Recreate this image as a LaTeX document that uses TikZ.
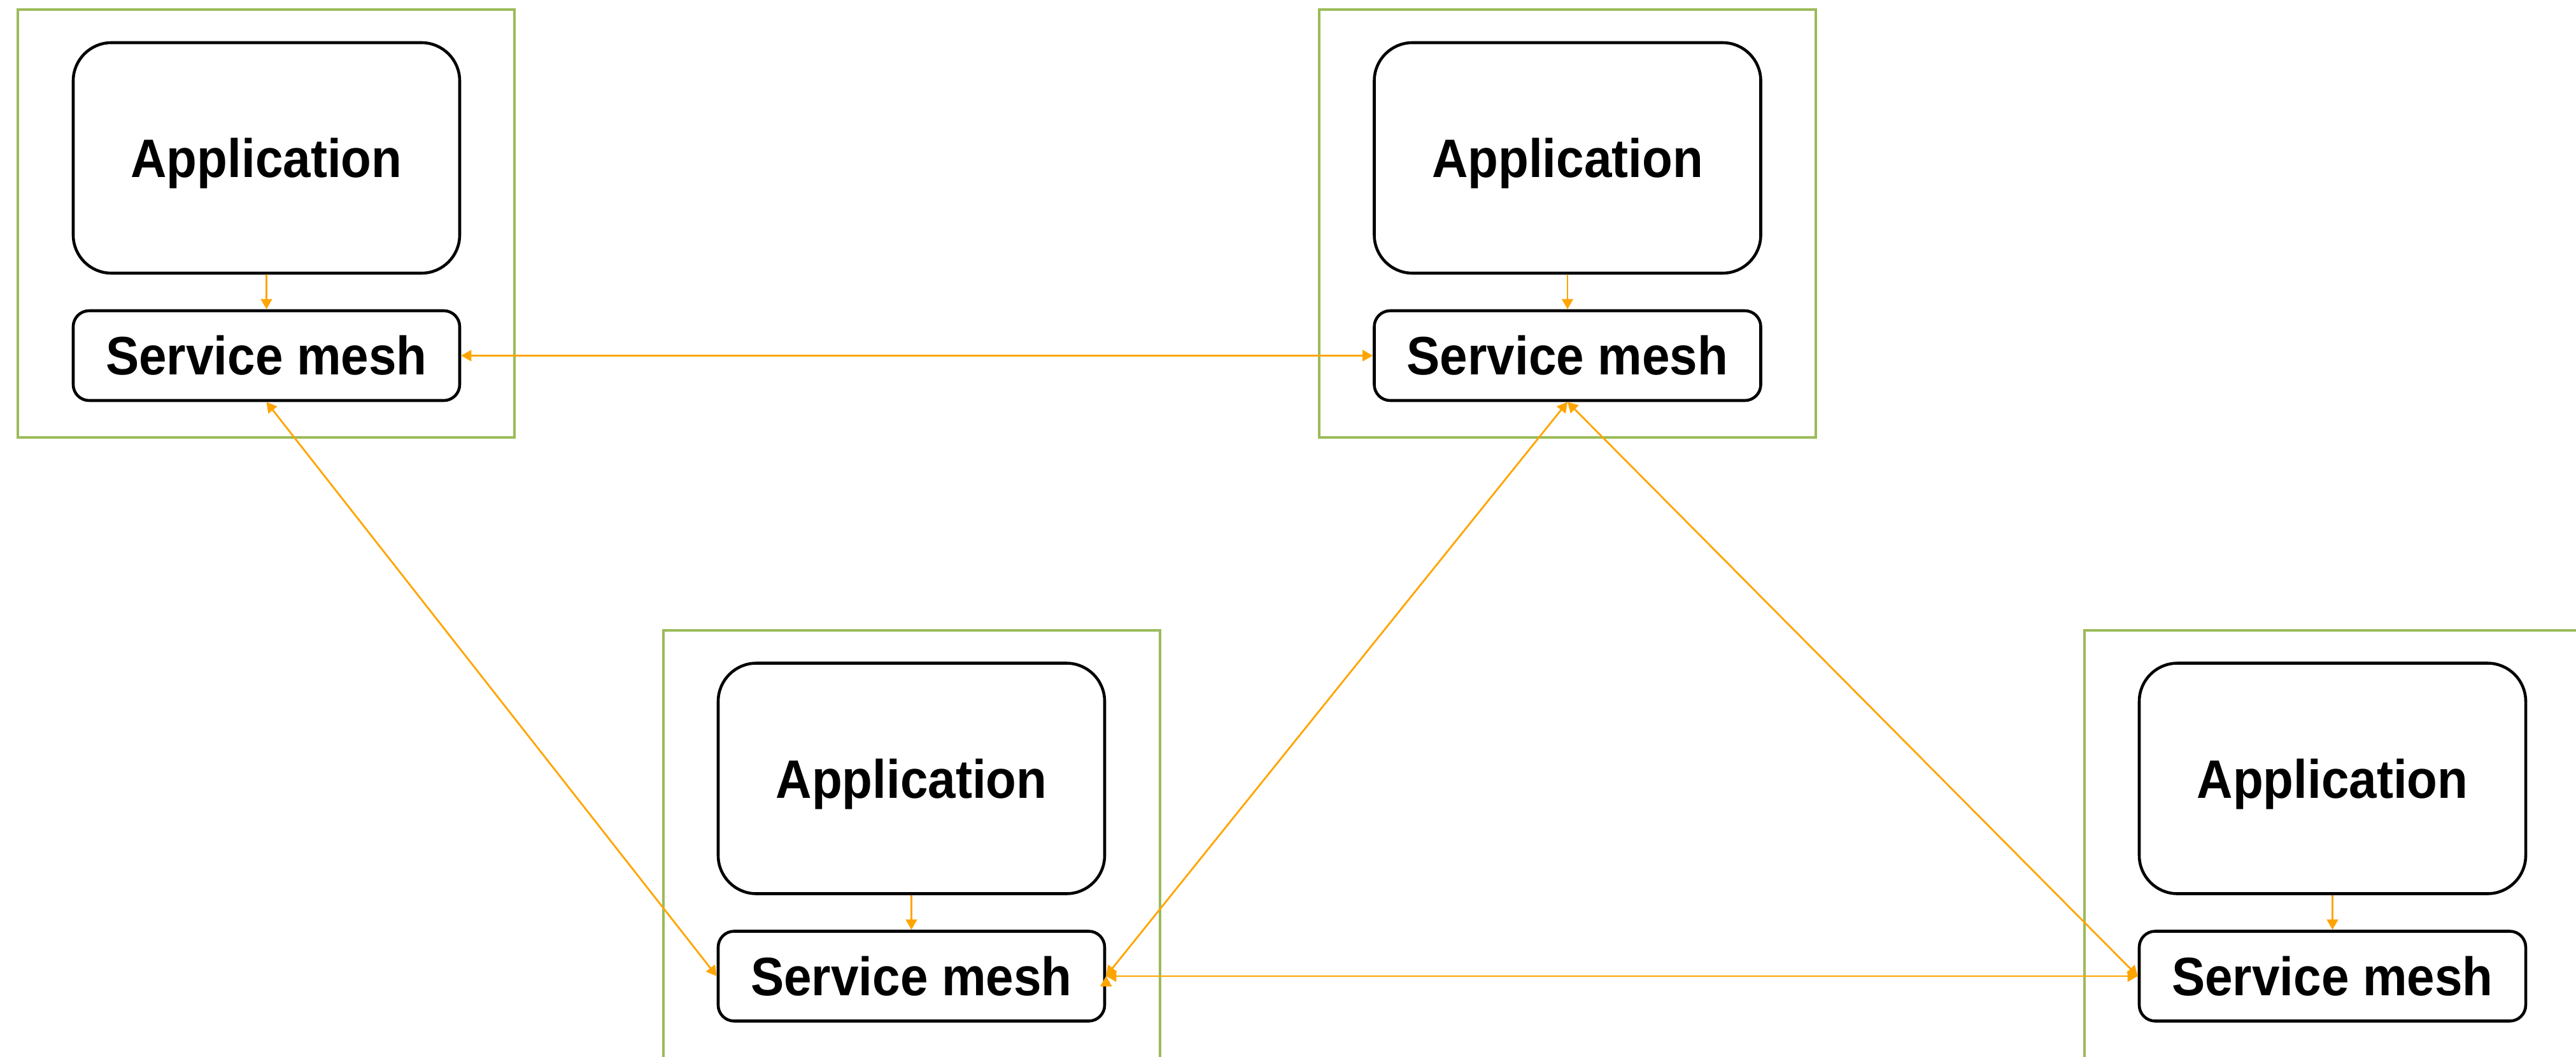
\documentclass[tikz,border=0pt]{standalone}
\usepackage{fontspec}
\setmainfont{Liberation Sans}[FakeStretch=0.92]
\usetikzlibrary{arrows.meta,positioning}
\definecolor{hostgreen}{HTML}{9BBB59}
\definecolor{linkorange}{HTML}{FFA500}
\tikzset{
  host/.style={draw=hostgreen,line width=1.3pt,minimum width=7.8cm,minimum height=6.72cm,inner sep=0pt},
  app/.style={draw,line width=1.3pt,rounded corners=0.6cm,minimum width=6.07cm,minimum height=3.62cm,inner sep=0pt,
    text depth=0pt,font=\bfseries\fontsize{24.2}{29}\selectfont},
  mesh/.style={draw,line width=1.3pt,rounded corners=0.25cm,minimum width=6.07cm,minimum height=1.41cm,inner sep=0pt,
    font=\bfseries\fontsize{24.2}{29}\selectfont},
  link/.style={draw,color=linkorange,line width=0.8pt}
}
\begin{document}
\begin{tikzpicture}[>={Triangle[length=4.6pt,width=5pt]},node distance=3.105cm,on grid]
\useasboundingbox (0,0) rectangle (40.46,-16.6);
\clip (0,0) rectangle (40.46,-16.6);
% hosts
\node[host] (h_1) at (4.18,-3.51) {};
\node[host] (h_2) at (24.62,-3.51) {};
\node[host] (h_3) at (14.32,-13.26) {};
\node[host] (h_4) at (36.64,-13.26) {};
% applications and their meshes
\node[app] (a_1) at (4.185,-2.48) {Application};
\node[mesh] (m_1) [below=of a_1] {Service mesh};
\node[app] (a_2) at (24.62,-2.48) {Application};
\node[mesh] (m_2) [below=of a_2] {Service mesh};
\node[app] (a_3) at (14.315,-12.225) {Application};
\node[mesh] (m_3) [below=of a_3] {Service mesh};
\node[app] (a_4) at (36.635,-12.225) {Application};
\node[mesh] (m_4) [below=of a_4] {Service mesh};
\path[link,->]
(a_1) edge (m_1)
(a_2) edge (m_2)
(a_3) edge (m_3)
(a_4) edge (m_4);
\path[link,<->]
(m_1.east) edge (m_2.west)
(m_1.south) edge (m_3.west)
(m_2.south) edge (m_3.east)
(m_2.south) edge (m_4.west)
(m_3.east) edge (m_4.west);
\end{tikzpicture}
\end{document}
